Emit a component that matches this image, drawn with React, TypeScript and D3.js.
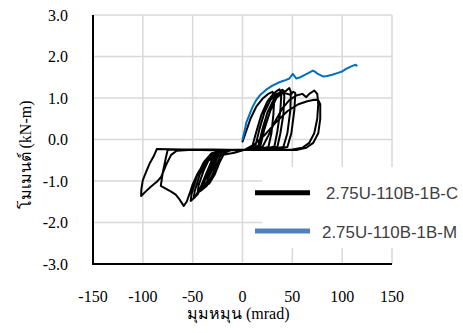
import React from "react";
import * as d3 from "d3";

const xTicks = [-150, -100, -50, 0, 50, 100, 150];
const yTicks = [-3, -2, -1, 0, 1, 2, 3];
const seriesNames = ["2.75U-110B-1B-C", "2.75U-110B-1B-M"];

// Series C (cyclic) – rotation (mrad) / moment (kN-m)
const cRotation = [
  0, 3, 8, 14, 20, 26, 30, 32, 31, 29, 26, 15, 0, -12, -18, -23, -28, -33, -36, -35, -31, -27, -22, -10, 5,
  10, 14, 19, 25, 31, 35, 37, 39, 38, 35, 32, 20, 0, -15, -21, -26, -31, -36, -40, -39, -35, -30, -25, -12, 5,
  13, 17, 22, 28, 34, 38, 40.5, 42, 41, 38, 35, 20, 0, -18, -24, -29, -35, -41, -45, -44, -39, -33, -27, -12, 8,
  16, 20, 25, 31, 37, 40, 42, 44, 47, 48.5, 48, 45, 41, 25, 0, -20, -27, -33, -39, -45, -49, -48, -43, -36, -29, -15, 8,
  18, 22, 28, 34, 40, 45, 48, 51, 53, 52, 49, 45, 30, 0, -22, -29, -36, -42, -48, -52, -51, -46, -39, -31, -15, 10,
  20, 26, 33, 40, 47, 54, 60, 64, 67, 72, 75, 76, 75, 72, 67, 60, 50, 25, 0, -30, -55, -75, -77, -80, -82, -78, -72,
  -67, -63, -59, -56, -53, -50, -45, -41, -35, -28, -18, -8, 2,
  12, 22, 33, 45, 56, 65, 72, 76, 78, 78, 76, 71, 64, 55, 30, 0, -30, -60, -86, -89, -93, -97, -100, -101.5, -101.7,
  -97, -92, -86, -81.6, -76.6, -71.6, -66, -50, -30,
];
const cMoment = [
  -0.05, 0.15, 0.5, 0.8, 0.98, 1.1, 1.15, 1.05, 0.6, 0.15, -0.18, -0.24, -0.25, -0.26, -0.32, -0.55, -0.85, -1.05, -1.1, -0.95, -0.65, -0.4, -0.28, -0.25, -0.24,
  -0.15, 0.2, 0.6, 0.92, 1.1, 1.18, 1.21, 1.12, 0.7, 0.2, -0.17, -0.24, -0.25, -0.26, -0.33, -0.6, -0.9, -1.12, -1.2, -1.05, -0.75, -0.45, -0.3, -0.25, -0.24,
  -0.15, 0.25, 0.65, 0.95, 1.1, 1.13, 1.14, 1.05, 0.6, 0.15, -0.18, -0.24, -0.25, -0.26, -0.35, -0.65, -0.98, -1.22, -1.28, -1.1, -0.75, -0.45, -0.3, -0.25, -0.24,
  -0.15, 0.25, 0.65, 0.95, 1.12, 1.2, 1.15, 1.18, 1.24, 1.15, 0.7, 0.15, -0.18, -0.24, -0.25, -0.26, -0.38, -0.72, -1.05, -1.32, -1.42, -1.25, -0.85, -0.5, -0.32, -0.26, -0.24,
  -0.15, 0.25, 0.7, 1.0, 1.12, 1.1, 1.08, 1.15, 1.12, 0.7, 0.15, -0.18, -0.24, -0.25, -0.26, -0.4, -0.8, -1.15, -1.4, -1.48, -1.3, -0.9, -0.55, -0.33, -0.26, -0.24,
  -0.18, 0.1, 0.45, 0.75, 0.95, 1.06, 1.1, 1.02, 1.1, 1.18, 1.1, 0.85, 0.5, 0.15, -0.08, -0.2, -0.24, -0.25, -0.25, -0.26, -0.25, -0.24, -0.45, -0.8, -1.12, -1.17, -1.25,
  -1.33, -1.45, -1.6, -1.5, -1.3, -1.08, -0.82, -0.66, -0.52, -0.42, -0.36, -0.32, -0.25,
  -0.12, 0.1, 0.4, 0.68, 0.85, 0.92, 0.96, 0.95, 0.85, 0.5, 0.15, -0.08, -0.2, -0.25, -0.25, -0.25, -0.24, -0.24, -0.23, -0.4, -0.57, -0.8, -0.98, -1.2, -1.36,
  -1.25, -1.14, -1.02, -0.9, -0.61, -0.37, -0.27, -0.25, -0.25,
];

// Series M (monotonic)
const mRotation = [0, 2, 4, 7, 10, 13.8, 18, 23.8, 30, 37, 42, 47, 50.5, 53.9, 58, 62, 66, 70.6, 73, 75.6, 80.6, 85, 90, 95, 100, 104, 108, 111, 113.5, 114.5];
const mMoment = [0, 0.2, 0.42, 0.6, 0.78, 0.95, 1.08, 1.2, 1.3, 1.38, 1.42, 1.47, 1.58, 1.47, 1.5, 1.55, 1.6, 1.66, 1.63, 1.58, 1.52, 1.53, 1.56, 1.6, 1.64, 1.7, 1.75, 1.78, 1.8, 1.78];

const W = 463;
const H = 333;

export default function App() {
  const x = d3.scaleLinear().domain([-150, 150]).range([93, 392]);
  const y = d3.scaleLinear().domain([-3, 3]).range([264, 15]);
  const mk = (xs: number[], ys: number[]) =>
    d3
      .line<number>()
      .x((v) => x(v))
      .y((_, i) => y(ys[i]))(xs) || "";

  const serif = "Liberation Serif";
  const sans = "Liberation Sans, Arial, sans-serif";

  return (
    <svg
      width={W}
      height={H}
      style={{ position: "absolute", left: 0, top: 0, background: "#fff" }}
    >
      <rect x={0} y={0} width={W} height={H} fill="#fff" />
      {xTicks.map((t) => (
        <line key={"gx" + t} x1={x(t)} x2={x(t)} y1={y(3)} y2={y(-3)} stroke="#d9d9d9" strokeWidth={1.5} />
      ))}
      {yTicks.map((t) => (
        <line key={"gy" + t} x1={x(-150)} x2={x(150)} y1={y(t)} y2={y(t)} stroke="#d9d9d9" strokeWidth={1.5} />
      ))}
      <line x1={x(-150)} x2={x(-150)} y1={y(3)} y2={y(-3)} stroke="#000" strokeWidth={2} />
      <line x1={x(-150) - 1} x2={x(150)} y1={y(-3)} y2={y(-3)} stroke="#000" strokeWidth={2} />
      <path d={mk(cRotation, cMoment)} fill="none" stroke="#000" strokeWidth={2} strokeLinejoin="round" strokeLinecap="round" />
      <path d={mk(mRotation, mMoment)} fill="none" stroke="#0070c0" strokeWidth={2} strokeLinejoin="round" strokeLinecap="round" />
      {yTicks.map((t) => (
        <text key={"ty" + t} x={68} y={y(t) + 5.5} textAnchor="end" fontFamily={serif} fontSize={16} fill="#000">
          {t.toFixed(1)}
        </text>
      ))}
      {xTicks.map((t) => (
        <text key={"tx" + t} x={x(t)} y={302} textAnchor="middle" fontFamily={serif} fontSize={16} fill="#000">
          {t}
        </text>
      ))}
      <text x={187} y={319} textAnchor="start" fontFamily={serif} fontSize={16} fill="#000">
        มุมหมุน (mrad)
      </text>
      <text transform="translate(31,155) rotate(-90)" textAnchor="middle" fontFamily={serif} fontSize={16} fill="#000">
        โมเมนต์ (kN-m)
      </text>
      <rect x={262} y={167} width={W - 262} height={81} fill="#fff" />
      <line x1={255} x2={310} y1={192.7} y2={192.7} stroke="#000" strokeWidth={5} />
      <text x={326} y={199} fontFamily={sans} fontSize={17} textLength={132} lengthAdjust="spacingAndGlyphs" fill="#404040">
        {seriesNames[0]}
      </text>
      <line x1={255} x2={310} y1={231} y2={231} stroke="#4f81bd" strokeWidth={5} />
      <text x={322} y={237.5} fontFamily={sans} fontSize={17} textLength={135} lengthAdjust="spacingAndGlyphs" fill="#404040">
        {seriesNames[1]}
      </text>
    </svg>
  );
}
